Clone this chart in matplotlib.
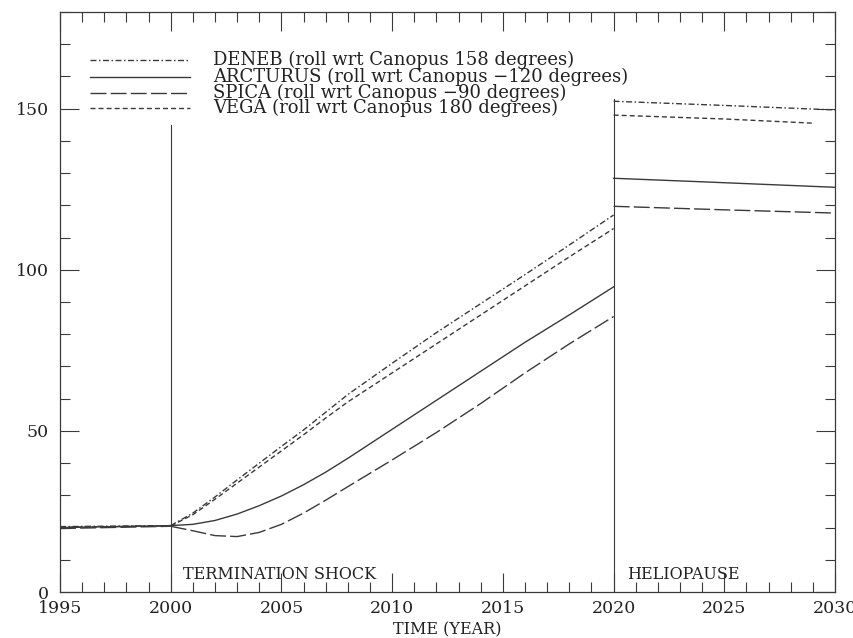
import matplotlib
matplotlib.use('Agg')
import matplotlib.pyplot as plt
from matplotlib.ticker import MultipleLocator

# data
years_pre = [1995, 2000]
years_mid = [2000, 2001, 2002, 2003, 2004, 2005, 2006, 2007, 2008, 2010, 2012, 2014, 2016, 2018, 2020]

deneb_pre = [20.3, 20.6]
deneb_mid = [20.6, 24.5, 29.5, 34.8, 40.0, 45.2, 50.3, 55.8, 61.3, 71.0, 80.5, 89.5, 98.5, 107.7, 117.0]
deneb_post_x = [2020, 2025, 2030]
deneb_post = [152.3, 151.0, 149.6]

arcturus_pre = [20.0, 20.6]
arcturus_mid = [20.6, 21.0, 22.2, 24.2, 26.8, 29.8, 33.3, 37.2, 41.5, 50.5, 59.5, 68.5, 77.5, 86.0, 94.7]
arcturus_post_x = [2020, 2024, 2030]
arcturus_post = [128.4, 127.3, 125.6]

spica_pre = [19.7, 20.4]
spica_mid = [20.4, 19.0, 17.5, 17.2, 18.5, 21.0, 24.5, 28.5, 32.7, 41.0, 49.5, 58.5, 68.0, 77.0, 85.5]
spica_post_x = [2020, 2025, 2030]
spica_post = [119.7, 118.6, 117.6]

vega_pre = [20.1, 20.5]
vega_mid = [20.5, 24.0, 28.8, 33.8, 38.8, 43.8, 48.8, 54.0, 59.0, 68.0, 77.0, 86.0, 95.0, 104.0, 112.8]
vega_post_x = [2020, 2025, 2029]
vega_post = [148.0, 146.8, 145.5]

labels = ['DENEB (roll wrt Canopus 158 degrees)',
          'ARCTURUS (roll wrt Canopus \u2212120 degrees)',
          'SPICA (roll wrt Canopus \u221290 degrees)',
          'VEGA (roll wrt Canopus 180 degrees)']

ink = '#3a3a3a'
styles = [(0, (4.3, 1.8, 1.1, 1.8)), '-', (0, (11.5, 3)), (0, (3.6, 2.2))]

plt.rcParams['font.family'] = 'DejaVu Serif'

fig = plt.figure(figsize=(8.54, 6.38), dpi=100)
ax = fig.add_axes([0.0703, 0.0721, 0.9075, 0.9091])

series = [
    (deneb_pre, deneb_mid, deneb_post_x, deneb_post),
    (arcturus_pre, arcturus_mid, arcturus_post_x, arcturus_post),
    (spica_pre, spica_mid, spica_post_x, spica_post),
    (vega_pre, vega_mid, vega_post_x, vega_post),
]

for (pre, mid, px, post), ls in zip(series, styles):
    ax.plot(years_pre, pre, color=ink, lw=1, linestyle=ls)
    ax.plot(years_mid, mid, color=ink, lw=1, linestyle=ls)
    ax.plot(px, post, color=ink, lw=1, linestyle=ls)

# boundary markers
ax.plot([2000, 2000], [0, 145], color=ink, lw=0.8)
ax.plot([2020, 2020], [0, 153], color=ink, lw=0.8)
ax.text(2000.55, 5.3, 'TERMINATION SHOCK', fontsize=11.5, va='center', color='#222222')
ax.text(2020.6, 5.3, 'HELIOPAUSE', fontsize=11.5, va='center', color='#222222')

# hand-made legend, rows packed tight like the original
leg_y = [0.917, 0.888, 0.860, 0.834]
for lab, ls, yy in zip(labels, styles, leg_y):
    ax.plot([0.0387, 0.168], [yy, yy], transform=ax.transAxes, color=ink, lw=1, linestyle=ls)
    ax.text(0.197, yy, lab, transform=ax.transAxes, fontsize=13, va='center', color='#222222')

ax.set_xlim(1995, 2030)
ax.set_ylim(0, 180)
ax.xaxis.set_major_locator(MultipleLocator(5))
ax.xaxis.set_minor_locator(MultipleLocator(1))
ax.yaxis.set_major_locator(MultipleLocator(50))
ax.yaxis.set_minor_locator(MultipleLocator(10))
ax.tick_params(which='both', direction='in', top=True, right=True, colors=ink, labelcolor='#222222')
ax.tick_params(which='major', length=14, width=0.8, labelsize=12.5)
ax.tick_params(axis='y', which='major', pad=8)
ax.tick_params(axis='x', which='major', pad=6)
ax.tick_params(which='minor', length=7, width=0.8)
for s in ax.spines.values():
    s.set_color(ink)
    s.set_linewidth(0.9)

ax.set_xlabel('TIME (YEAR)', fontsize=11.5, labelpad=3, color='#222222')

fig.savefig('out.png', dpi=100)
